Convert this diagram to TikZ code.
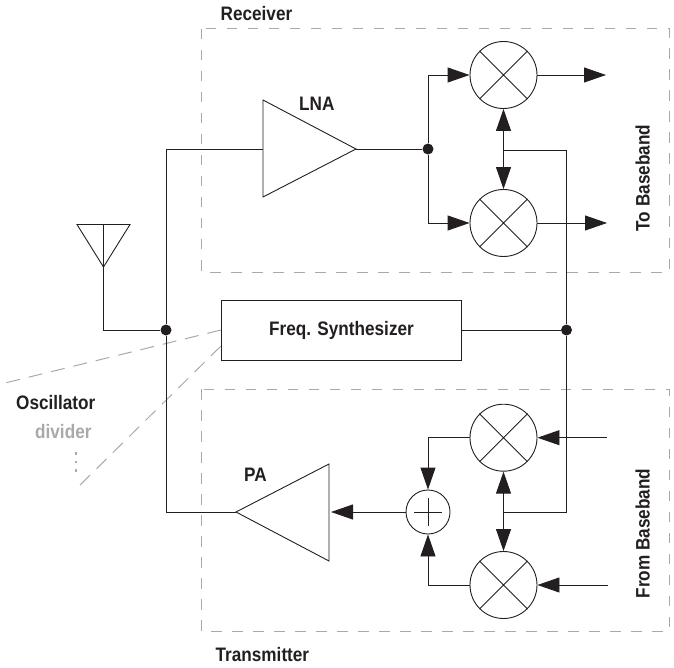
\documentclass[tikz,border=0pt]{standalone}
\usepackage{fontspec}
\setmainfont{Liberation Sans}
\newfontfamily\labelfont[FakeStretch=0.88]{Liberation Sans}
\usetikzlibrary{arrows.meta}
\definecolor{ink}{HTML}{231F20}
\definecolor{dashgray}{HTML}{A7A9AC}
\tikzset{
  wireline/.style={draw=ink,line width=0.9pt},
  flow/.style={wireline,-{Triangle[length=22pt,width=15pt]}},
  bothflow/.style={wireline,{Triangle[length=22pt,width=15pt]}-{Triangle[length=22pt,width=15pt]}},
  mixer/.style={circle,draw=ink,line width=0.9pt,minimum size=67pt,inner sep=0pt},
  adder/.style={circle,draw=ink,line width=0.9pt,minimum size=44pt,inner sep=0pt},
  junction/.style={circle,fill=ink,inner sep=0pt,minimum size=11pt},
  groupbox/.style={draw=dashgray,line width=1pt,dash pattern=on 10.5pt off 10.5pt},
  guide/.style={draw=dashgray,line width=1pt,dash pattern=on 14pt off 9pt},
  labeltext/.style={font=\labelfont\fontsize{19.5}{21}\selectfont\bfseries,text=ink,inner sep=0pt},
}
\begin{document}
\begin{tikzpicture}[x=1pt,y=-1pt]
\useasboundingbox (0,0) rectangle (674,668);
% group boxes
\draw[groupbox] (201,29) rectangle (669,272);
\draw[groupbox] (201,389) rectangle (669,631);
% guides
\coordinate (g1) at (5,383);
\coordinate (g2) at (77,488);
\draw[guide] (221,330) -- (g1);
\draw[guide] (221,346) -- (g2);
\draw[draw=dashgray,line width=2pt,dash pattern=on 2.5pt off 6pt] (76,452) -- (76,474);
% nodes
\node[mixer] (m1) at (503.5,75) {};
\node[mixer] (m2) at (503.5,223) {};
\node[mixer] (m3) at (503.5,437.7) {};
\node[mixer] (m4) at (503.5,585) {};
\foreach \m in {m1,m2,m3,m4}{
  \draw[draw=ink,line width=0.9pt] (\m.45) -- (\m.225) (\m.135) -- (\m.315);
}
\node[adder] (add) at (428,512) {};
\draw[draw=ink,line width=0.9pt] (428,498) -- (428,526) (414,512) -- (442,512);
\node[draw=ink,line width=0.9pt,minimum width=240pt,minimum height=60pt,labeltext] (syn) at (341.5,330) {Freq. Synthesizer};
\node[junction] (jl) at (166,330) {};
\node[junction] (jr) at (566.5,330) {};
\node[junction] (jn) at (428,149) {};
% LNA, PA and antenna
\coordinate (lnaA) at (263,100);
\coordinate (lnaB) at (263,197);
\coordinate (lnaIn) at (263,149);
\coordinate (lnaOut) at (356,149);
\draw[wireline,line join=miter] (lnaA) -- (lnaOut) -- (lnaB) -- cycle;
\coordinate (paA) at (329,464);
\coordinate (paB) at (329,561);
\coordinate (paIn) at (331,512);
\coordinate (paOut) at (236,512);
\draw[wireline,line join=miter] (paA) -- (paOut) -- (paB) -- cycle;
\coordinate (antL) at (77,224.5);
\coordinate (antR) at (130,224.5);
\coordinate (antT) at (103.5,224.5);
\coordinate (antB) at (103.5,267);
\draw[wireline,line join=miter] (antL) -- (antR) -- (antB) -- cycle;
\draw[wireline] (antT) -- (antB) |- (jl);
% main wires
\draw[wireline] (lnaIn) -- (166,149) -- (jl) -- (166,512) -- (paOut);
\draw[wireline] (lnaOut) -- (jn);
\draw[flow] (jn) |- (m1.west);
\draw[flow] (jn) |- (m2.west);
\coordinate (o1) at (606,75);
\coordinate (o2) at (607,223);
\draw[flow] (m1.east) -- (o1);
\draw[flow] (m2.east) -- (o2);
\draw[bothflow] (m1.south) -- (m2.north);
\draw[wireline] (503.5,150) -- (566.5,150) -- (jr) -- (566.5,512) -- (503.5,512);
\draw[wireline] (syn.east) -- (jr);
\draw[bothflow] (m3.south) -- (m4.north);
\coordinate (i3) at (607,437.7);
\coordinate (i4) at (608,585);
\draw[flow] (i3) -- (m3.east);
\draw[flow] (i4) -- (m4.east);
\draw[flow] (m3.west) -| (add.north);
\draw[flow] (m4.west) -| (add.south);
\draw[flow] (add.west) -- (paIn);
% labels
\node[labeltext,anchor=base west] (rx) at (220.5,20.7) {Receiver};
\node[labeltext,anchor=base west] (tx) at (215.5,661.7) {Transmitter};
\node[labeltext,anchor=base west] (lna) at (299,110.7) {LNA};
\node[labeltext,anchor=base west] (pa) at (244,481.7) {PA};
\node[labeltext,rotate=90,anchor=base] (tb) at (649.5,178) {To Baseband};
\node[labeltext,rotate=90,anchor=base] (fb) at (649.5,533.5) {From Baseband};
\node[labeltext,anchor=base west] (osc) at (16,409) {Oscillator};
\node[labeltext,anchor=base west,text=dashgray] (div) at (35,438) {divider};
\end{tikzpicture}
\end{document}
